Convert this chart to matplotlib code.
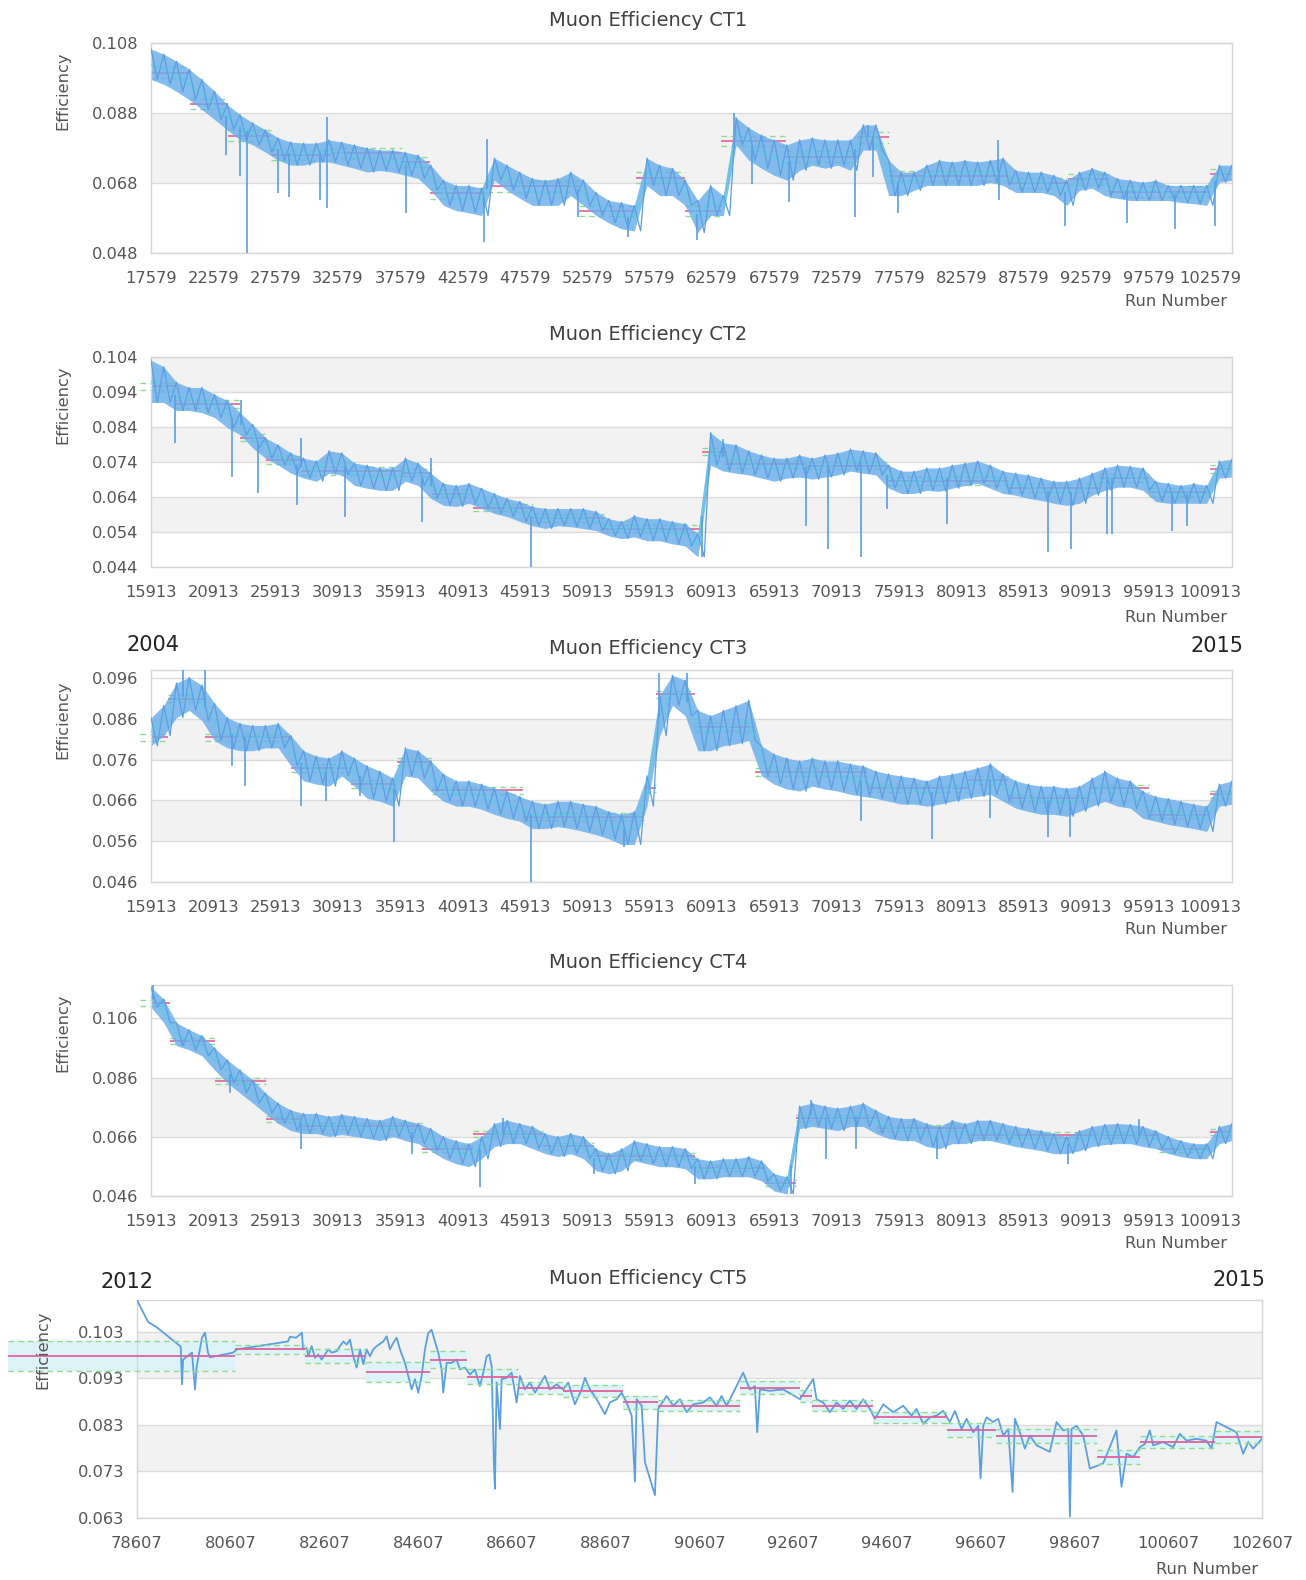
import matplotlib.pyplot as plt
import numpy as np

W, H = 1306, 1580

# ---------------- CT1 ----------------
ct1_start, ct1_end = 17579, 104286
ct1_hi = [0.1063, 0.1048, 0.1028, 0.1005, 0.0976, 0.0942, 0.0904, 0.0875, 0.0852, 0.0832,
          0.0809, 0.0797, 0.0794, 0.0794, 0.0803, 0.0797, 0.0789, 0.0780, 0.0774, 0.0774,
          0.0768, 0.0760, 0.0731, 0.0688, 0.0673, 0.0673, 0.0665, 0.0751, 0.0731, 0.0711,
          0.0693, 0.0688, 0.0693, 0.0711, 0.0688, 0.0653, 0.0630, 0.0624, 0.0616, 0.0751,
          0.0731, 0.0722, 0.0688, 0.0630, 0.0673, 0.0644, 0.0867, 0.0838, 0.0817, 0.0803,
          0.0789, 0.0803, 0.0809, 0.0803, 0.0803, 0.0803, 0.0846, 0.0846, 0.0745, 0.0711,
          0.0711, 0.0731, 0.0745, 0.0740, 0.0745, 0.0740, 0.0745, 0.0751, 0.0716, 0.0711,
          0.0711, 0.0702, 0.0688, 0.0711, 0.0722, 0.0711, 0.0693, 0.0688, 0.0682, 0.0688,
          0.0673, 0.0673, 0.0673, 0.0673, 0.0731, 0.0731]
ct1_lo = [0.0976, 0.0962, 0.0942, 0.0918, 0.0890, 0.0861, 0.0832, 0.0803, 0.0789, 0.0768,
          0.0745, 0.0731, 0.0731, 0.0740, 0.0740, 0.0731, 0.0722, 0.0711, 0.0716, 0.0711,
          0.0702, 0.0693, 0.0659, 0.0616, 0.0601, 0.0595, 0.0587, 0.0688, 0.0659, 0.0636,
          0.0616, 0.0616, 0.0616, 0.0644, 0.0616, 0.0587, 0.0566, 0.0549, 0.0543, 0.0673,
          0.0644, 0.0644, 0.0616, 0.0538, 0.0587, 0.0587, 0.0789, 0.0745, 0.0722, 0.0702,
          0.0688, 0.0716, 0.0731, 0.0722, 0.0731, 0.0716, 0.0774, 0.0774, 0.0644, 0.0644,
          0.0659, 0.0673, 0.0673, 0.0673, 0.0673, 0.0673, 0.0682, 0.0673, 0.0653, 0.0653,
          0.0653, 0.0644, 0.0616, 0.0659, 0.0665, 0.0644, 0.0636, 0.0630, 0.0630, 0.0630,
          0.0630, 0.0624, 0.0621, 0.0616, 0.0682, 0.0688]
ct1_spike_runs = [23557, 24683, 25242, 27736, 28619, 31106, 31673, 31720, 38023, 44269,
                  44512, 51801, 55868, 61335, 64308, 65758, 68730, 74036, 75081, 75478,
                  77487, 85530, 85560, 90924, 95865, 99753, 102912]
ct1_spike_vals = [0.0760, 0.0700, 0.0480, 0.0651, 0.0640, 0.0632, 0.0869, 0.0609, 0.0594, 0.0512,
                  0.0806, 0.0584, 0.0526, 0.0517, 0.0880, 0.0677, 0.0625, 0.0583, 0.0846, 0.0697,
                  0.0594, 0.0803, 0.0631, 0.0558, 0.0566, 0.0549, 0.0558]
ct1_mean_edges = [17579, 20700, 23776, 27177, 32038, 37708, 39975, 44512, 51883, 56500,
                  60388, 63304, 68488, 74316, 76746, 86304, 91164, 94404, 102504, 104286]
ct1_mean_vals = [0.0995, 0.0905, 0.0815, 0.0760, 0.0765, 0.0740, 0.0650, 0.0670, 0.0600,
                 0.0695, 0.0600, 0.0800, 0.0755, 0.0810, 0.0700, 0.0680, 0.0690, 0.0655, 0.0705]
ct1_sigma = 0.0015
ct1_xticks = list(range(17579, 102580, 5000))
ct1_yticks = [0.048, 0.068, 0.088, 0.108]

# ---------------- CT2 ----------------
ct2_start, ct2_end = 15913, 102620
ct2_hi = [0.1031, 0.1012, 0.0968, 0.0953, 0.0953, 0.0933, 0.0916, 0.0881, 0.0847, 0.0809,
          0.0789, 0.0766, 0.0751, 0.0743, 0.0772, 0.0766, 0.0737, 0.0731, 0.0723, 0.0723,
          0.0751, 0.0737, 0.0708, 0.0679, 0.0673, 0.0679, 0.0665, 0.0650, 0.0636, 0.0627,
          0.0613, 0.0607, 0.0607, 0.0607, 0.0607, 0.0599, 0.0578, 0.0570, 0.0587, 0.0578,
          0.0578, 0.0570, 0.0564, 0.0535, 0.0824, 0.0795, 0.0789, 0.0772, 0.0760, 0.0751,
          0.0751, 0.0760, 0.0751, 0.0760, 0.0766, 0.0777, 0.0772, 0.0766, 0.0731, 0.0714,
          0.0714, 0.0723, 0.0723, 0.0731, 0.0737, 0.0743, 0.0731, 0.0714, 0.0708, 0.0703,
          0.0694, 0.0685, 0.0685, 0.0694, 0.0708, 0.0723, 0.0731, 0.0728, 0.0723, 0.0685,
          0.0679, 0.0673, 0.0679, 0.0673, 0.0743, 0.0748]
ct2_lo = [0.0910, 0.0910, 0.0887, 0.0887, 0.0881, 0.0867, 0.0838, 0.0818, 0.0780, 0.0751,
          0.0731, 0.0708, 0.0694, 0.0685, 0.0708, 0.0703, 0.0673, 0.0665, 0.0659, 0.0659,
          0.0685, 0.0673, 0.0636, 0.0616, 0.0613, 0.0622, 0.0607, 0.0593, 0.0584, 0.0570,
          0.0558, 0.0550, 0.0558, 0.0555, 0.0550, 0.0544, 0.0529, 0.0521, 0.0526, 0.0515,
          0.0515, 0.0506, 0.0500, 0.0469, 0.0731, 0.0714, 0.0708, 0.0703, 0.0694, 0.0685,
          0.0694, 0.0697, 0.0691, 0.0697, 0.0703, 0.0714, 0.0708, 0.0703, 0.0665, 0.0650,
          0.0650, 0.0659, 0.0656, 0.0665, 0.0673, 0.0679, 0.0665, 0.0650, 0.0645, 0.0636,
          0.0630, 0.0622, 0.0616, 0.0622, 0.0645, 0.0659, 0.0668, 0.0668, 0.0659, 0.0627,
          0.0622, 0.0622, 0.0622, 0.0622, 0.0694, 0.0697]
ct2_spike_runs = [17865, 22450, 23171, 24459, 27593, 27917, 31457, 37645, 38366, 46400,
                  60089, 61790, 68432, 70214, 72887, 74912, 79772, 87872, 89735, 92570,
                  92975, 97835, 99050]
ct2_spike_vals = [0.0794, 0.0697, 0.0917, 0.0651, 0.0617, 0.0809, 0.0583, 0.0569, 0.0751, 0.0440,
                  0.0469, 0.0807, 0.0558, 0.0492, 0.0469, 0.0607, 0.0564, 0.0483, 0.0492, 0.0535,
                  0.0535, 0.0544, 0.0558]
ct2_mean_edges = [15050, 17816, 23082, 25107, 27942, 36042, 38472, 41712, 46572, 52242,
                  60099, 61962, 68442, 74922, 84642, 91932, 95982, 100842, 102620]
ct2_mean_vals = [0.0956, 0.0905, 0.0810, 0.0745, 0.0715, 0.0710, 0.0650, 0.0610, 0.0580,
                 0.0550, 0.0770, 0.0735, 0.0730, 0.0685, 0.0665, 0.0695, 0.0655, 0.0720]
ct2_sigma = 0.0011
ct2_xticks = list(range(15913, 100914, 5000))
ct2_yticks = [0.044, 0.054, 0.064, 0.074, 0.084, 0.094, 0.104]

# ---------------- CT3 ----------------
ct3_start, ct3_end = 15913, 102620
ct3_hi = [0.0863, 0.0893, 0.0948, 0.0962, 0.0943, 0.0898, 0.0863, 0.0849, 0.0844, 0.0844,
          0.0849, 0.0819, 0.0782, 0.0769, 0.0764, 0.0782, 0.0764, 0.0745, 0.0732, 0.0715,
          0.0789, 0.0782, 0.0757, 0.0725, 0.0708, 0.0708, 0.0700, 0.0690, 0.0683, 0.0670,
          0.0658, 0.0651, 0.0658, 0.0658, 0.0651, 0.0646, 0.0633, 0.0626, 0.0633, 0.0720,
          0.0918, 0.0967, 0.0955, 0.0881, 0.0868, 0.0881, 0.0893, 0.0906, 0.0794, 0.0774,
          0.0764, 0.0757, 0.0764, 0.0757, 0.0757, 0.0750, 0.0745, 0.0732, 0.0725, 0.0720,
          0.0715, 0.0708, 0.0720, 0.0725, 0.0732, 0.0740, 0.0750, 0.0725, 0.0708, 0.0700,
          0.0695, 0.0695, 0.0690, 0.0695, 0.0715, 0.0732, 0.0715, 0.0708, 0.0683, 0.0670,
          0.0665, 0.0658, 0.0651, 0.0646, 0.0700, 0.0708]
ct3_lo = [0.0794, 0.0819, 0.0863, 0.0881, 0.0856, 0.0807, 0.0789, 0.0782, 0.0782, 0.0789,
          0.0789, 0.0745, 0.0708, 0.0700, 0.0695, 0.0720, 0.0695, 0.0665, 0.0658, 0.0646,
          0.0720, 0.0715, 0.0683, 0.0658, 0.0646, 0.0646, 0.0638, 0.0626, 0.0616, 0.0609,
          0.0591, 0.0591, 0.0596, 0.0591, 0.0584, 0.0576, 0.0566, 0.0552, 0.0552, 0.0646,
          0.0819, 0.0893, 0.0868, 0.0782, 0.0782, 0.0794, 0.0799, 0.0807, 0.0720, 0.0700,
          0.0688, 0.0683, 0.0695, 0.0688, 0.0683, 0.0675, 0.0670, 0.0665, 0.0658, 0.0651,
          0.0651, 0.0646, 0.0651, 0.0658, 0.0665, 0.0670, 0.0675, 0.0658, 0.0641, 0.0633,
          0.0626, 0.0626, 0.0621, 0.0633, 0.0646, 0.0658, 0.0646, 0.0641, 0.0616, 0.0609,
          0.0601, 0.0596, 0.0591, 0.0584, 0.0646, 0.0651]
ct3_spike_runs = [18465, 20247, 22433, 23487, 27942, 29967, 32640, 35394, 46410, 53862,
                  56697, 58884, 72897, 78567, 83181, 87882, 89664]
ct3_spike_vals = [0.0980, 0.0980, 0.0745, 0.0695, 0.0646, 0.0658, 0.0670, 0.0559, 0.0460, 0.0547,
                  0.0972, 0.0972, 0.0609, 0.0566, 0.0616, 0.0571, 0.0571]
ct3_mean_edges = [15050, 17250, 20247, 27132, 31992, 35637, 38472, 45762, 55482, 56457,
                  59535, 64395, 73305, 81405, 84645, 91125, 95985, 100845, 102620]
ct3_mean_vals = [0.0815, 0.0910, 0.0815, 0.0740, 0.0700, 0.0755, 0.0685, 0.0620, 0.0690,
                 0.0920, 0.0840, 0.0730, 0.0690, 0.0710, 0.0665, 0.0690, 0.0625, 0.0675]
ct3_sigma = 0.0009
ct3_xticks = list(range(15913, 100914, 5000))
ct3_yticks = [0.046, 0.056, 0.066, 0.076, 0.086, 0.096]

# ---------------- CT4 ----------------
ct4_start, ct4_end = 15913, 102620
ct4_hi = [0.1166, 0.1125, 0.1046, 0.1022, 0.1002, 0.0961, 0.0920, 0.0886, 0.0852, 0.0808,
          0.0774, 0.0750, 0.0739, 0.0739, 0.0729, 0.0736, 0.0729, 0.0722, 0.0716, 0.0729,
          0.0716, 0.0705, 0.0688, 0.0661, 0.0647, 0.0637, 0.0661, 0.0705, 0.0716, 0.0705,
          0.0695, 0.0671, 0.0661, 0.0671, 0.0661, 0.0620, 0.0603, 0.0620, 0.0647, 0.0637,
          0.0627, 0.0627, 0.0620, 0.0586, 0.0579, 0.0586, 0.0586, 0.0593, 0.0579, 0.0535,
          0.0525, 0.0764, 0.0774, 0.0764, 0.0757, 0.0764, 0.0774, 0.0750, 0.0729, 0.0722,
          0.0722, 0.0705, 0.0695, 0.0716, 0.0705, 0.0716, 0.0716, 0.0705, 0.0695, 0.0688,
          0.0681, 0.0671, 0.0661, 0.0681, 0.0695, 0.0702, 0.0705, 0.0702, 0.0695, 0.0681,
          0.0661, 0.0647, 0.0637, 0.0637, 0.0695, 0.0705]
ct4_lo = [0.1098, 0.1046, 0.0968, 0.0954, 0.0934, 0.0886, 0.0842, 0.0808, 0.0774, 0.0739,
          0.0705, 0.0681, 0.0671, 0.0671, 0.0661, 0.0668, 0.0661, 0.0654, 0.0647, 0.0661,
          0.0647, 0.0637, 0.0613, 0.0586, 0.0569, 0.0559, 0.0586, 0.0627, 0.0637, 0.0637,
          0.0620, 0.0603, 0.0593, 0.0603, 0.0586, 0.0545, 0.0535, 0.0545, 0.0579, 0.0569,
          0.0559, 0.0559, 0.0552, 0.0518, 0.0518, 0.0525, 0.0525, 0.0525, 0.0511, 0.0477,
          0.0467, 0.0688, 0.0695, 0.0688, 0.0681, 0.0695, 0.0695, 0.0671, 0.0654, 0.0647,
          0.0647, 0.0627, 0.0620, 0.0637, 0.0637, 0.0647, 0.0647, 0.0637, 0.0627, 0.0620,
          0.0613, 0.0603, 0.0603, 0.0613, 0.0627, 0.0634, 0.0637, 0.0637, 0.0627, 0.0620,
          0.0603, 0.0593, 0.0586, 0.0586, 0.0637, 0.0647]
ct4_spike_runs = [16035, 22272, 27942, 36852, 42279, 44142, 51432, 59532, 67227, 68847,
                  70062, 72492, 78972, 89502, 95172]
ct4_spike_vals = [0.1173, 0.0808, 0.0620, 0.0603, 0.0491, 0.0722, 0.0535, 0.0501, 0.0467, 0.0784,
                  0.0586, 0.0620, 0.0586, 0.0569, 0.0719]
ct4_mean_edges = [15050, 17412, 21057, 25107, 27942, 37662, 41712, 47382, 51432, 59532,
                  65202, 67632, 74112, 81402, 96792, 100842, 102620]
ct4_mean_vals = [0.1111, 0.0985, 0.0850, 0.0720, 0.0695, 0.0620, 0.0670, 0.0630, 0.0595,
                 0.0555, 0.0505, 0.0725, 0.0690, 0.0665, 0.0620, 0.0675]
ct4_sigma = 0.0010
ct4_xticks = list(range(15913, 100914, 5000))
ct4_yticks = [0.046, 0.066, 0.086, 0.106]

# ---------------- CT5 ----------------
ct5_runs = [78607, 78842, 79034, 79540, 79567, 79590, 79780, 79844, 79880, 79994,
            80057, 80121, 80164, 80655, 80740, 81828, 81871, 82000, 82084, 82126,
            82148, 82227, 82261, 82333, 82404, 82475, 82546, 82617, 82688, 82760,
            82866, 82937, 83008, 83080, 83150, 83221, 83293, 83364, 83435, 83506,
            83577, 83648, 83720, 83862, 83933, 84004, 84075, 84146, 84217, 84324,
            84394, 84466, 84537, 84607, 84679, 84750, 84820, 84892, 84963, 85034,
            85106, 85140, 85213, 85319, 85426, 85497, 85603, 85710, 85816, 85923,
            85994, 86066, 86122, 86173, 86222, 86243, 86279, 86350, 86386, 86492,
            86599, 86706, 86776, 86883, 86990, 87096, 87203, 87310, 87416, 87558,
            87700, 87807, 87949, 88092, 88163, 88270, 88412, 88590, 88696, 88839,
            88946, 89052, 89159, 89230, 89266, 89373, 89443, 89656, 89727, 89905,
            90047, 90189, 90332, 90474, 90687, 90829, 90972, 91078, 91185, 91362,
            91539, 91682, 91789, 91838, 91896, 92109, 92393, 92749, 93033, 93104,
            93246, 93389, 93531, 93673, 93815, 93957, 94099, 94242, 94348, 94526,
            94739, 94952, 95131, 95238, 95380, 95522, 95665, 95806, 95948, 96055,
            96198, 96305, 96447, 96553, 96603, 96660, 96731, 96873, 96980, 97087,
            97193, 97286, 97335, 97442, 97548, 97655, 97797, 98081, 98224, 98366,
            98473, 98509, 98544, 98651, 98793, 98935, 99218, 99503, 99610, 99717,
            99859, 100001, 100108, 100214, 100284, 100498, 100711, 100854, 100996, 101209,
            101423, 101530, 101637, 101850, 102063, 102205, 102312, 102419, 102607]
ct5_eff = [0.1098, 0.1051, 0.1039, 0.0998, 0.0917, 0.0970, 0.0985, 0.0906, 0.0955, 0.1017,
           0.1028, 0.0985, 0.0975, 0.0985, 0.0992, 0.1009, 0.1019, 0.1017, 0.1024, 0.1028,
           0.0992, 0.0995, 0.0977, 0.0999, 0.0974, 0.0981, 0.0970, 0.0981, 0.0992, 0.0985,
           0.0988, 0.0999, 0.1009, 0.1002, 0.1013, 0.0977, 0.0953, 0.0992, 0.0960, 0.0992,
           0.0977, 0.0992, 0.0999, 0.1009, 0.1020, 0.0992, 0.1006, 0.1017, 0.0992, 0.0963,
           0.0935, 0.0906, 0.0928, 0.0899, 0.0935, 0.0992, 0.1027, 0.1034, 0.1009, 0.0985,
           0.0949, 0.0899, 0.0963, 0.0963, 0.0970, 0.0949, 0.0953, 0.0938, 0.0949, 0.0913,
           0.0942, 0.0977, 0.0981, 0.0956, 0.0743, 0.0693, 0.0921, 0.0821, 0.0928, 0.0931,
           0.0942, 0.0878, 0.0935, 0.0906, 0.0921, 0.0899, 0.0917, 0.0935, 0.0906, 0.0917,
           0.0906, 0.0921, 0.0874, 0.0906, 0.0931, 0.0906, 0.0885, 0.0853, 0.0878, 0.0885,
           0.0899, 0.0878, 0.0850, 0.0708, 0.0885, 0.0871, 0.0750, 0.0679, 0.0864, 0.0892,
           0.0871, 0.0885, 0.0857, 0.0874, 0.0878, 0.0889, 0.0871, 0.0892, 0.0871, 0.0906,
           0.0942, 0.0906, 0.0913, 0.0814, 0.0906, 0.0903, 0.0906, 0.0885, 0.0928, 0.0885,
           0.0878, 0.0857, 0.0878, 0.0864, 0.0882, 0.0864, 0.0885, 0.0864, 0.0843, 0.0874,
           0.0857, 0.0871, 0.0850, 0.0864, 0.0832, 0.0846, 0.0850, 0.0860, 0.0836, 0.0860,
           0.0821, 0.0843, 0.0814, 0.0828, 0.0715, 0.0828, 0.0846, 0.0836, 0.0843, 0.0807,
           0.0821, 0.0686, 0.0843, 0.0814, 0.0779, 0.0807, 0.0786, 0.0772, 0.0836, 0.0818,
           0.0821, 0.0633, 0.0821, 0.0828, 0.0807, 0.0736, 0.0747, 0.0818, 0.0697, 0.0768,
           0.0761, 0.0782, 0.0789, 0.0818, 0.0786, 0.0793, 0.0782, 0.0811, 0.0796, 0.0800,
           0.0796, 0.0779, 0.0836, 0.0825, 0.0814, 0.0768, 0.0793, 0.0779, 0.0800]
ct5_mean_edges = [75850, 80700, 82200, 83500, 84850, 85640, 86730, 87700, 88970, 89720,
                  91470, 92750, 93000, 94300, 95880, 96940, 99080, 100000, 101600, 102607]
ct5_mean_vals = [0.0977, 0.0992, 0.0977, 0.0943, 0.0970, 0.0933, 0.0909, 0.0903, 0.0878, 0.0871,
                 0.0910, 0.0892, 0.0871, 0.0846, 0.0818, 0.0807, 0.0761, 0.0793, 0.0804]
ct5_sigma = [0.0032, 0.0010, 0.0015, 0.0022, 0.0018, 0.0016, 0.0012, 0.0013, 0.0013, 0.0012,
             0.0014, 0.0012, 0.0012, 0.0012, 0.0015, 0.0015, 0.0015, 0.0012, 0.0012]
ct5_xticks = list(range(78607, 102608, 2000))
ct5_yticks = [0.063, 0.073, 0.083, 0.093, 0.103]

BLUE = '#5a9fe2'
BAND = '#68aeea'
CYANLINE = '#62cbe0'
PINK = '#e4609c'
GREEN = '#8fdc8f'
CYAN = '#dcf3f7'
TXT = '#555555'


def px_rect(l, t, r, b):
    return [l / W, 1 - b / H, (r - l) / W, (b - t) / H]


def setup_axes(rect, title, title_y, xticks, yticks, xlim, ylim, label_x, label_y, runnum):
    ax = fig.add_axes(px_rect(*rect))
    ax.set_xlim(*xlim)
    ax.set_ylim(*ylim)
    for k in range(1, len(yticks) - 1, 2):
        ax.axhspan(yticks[k], yticks[k + 1], color='#f2f2f2', zorder=0, lw=0)
    for yt in yticks:
        ax.axhline(yt, color='#dcdcdc', lw=1.0, zorder=0.5)
    ax.set_xticks(xticks)
    ax.set_xticklabels([str(t) for t in xticks])
    ax.set_yticks(yticks)
    ax.set_yticklabels(['%.3f' % t for t in yticks])
    ax.tick_params(length=0, labelsize=11.7, colors=TXT)
    ax.tick_params(axis='x', pad=13)
    ax.tick_params(axis='y', pad=9)
    for s in ax.spines.values():
        s.set_color('#d6d6d6')
        s.set_linewidth(1.0)
    fig.text(648 / W, 1 - title_y / H, title, ha='center', va='center',
             fontsize=14, color='#404040')
    fig.text(label_x / W, 1 - label_y / H, 'Efficiency', rotation=90,
             ha='center', va='center', fontsize=11.7, color=TXT)
    fig.text(runnum[0] / W, 1 - runnum[1] / H, 'Run Number', ha='right',
             va='center', fontsize=11.7, color=TXT)
    return ax


def draw_steps(ax, edges, means, sigma, z, lw_mean):
    edges = np.asarray(edges, dtype=float)
    means = np.asarray(means)
    sig = np.broadcast_to(np.asarray(sigma, dtype=float), means.shape)
    ax.hlines(means, edges[:-1], edges[1:], colors=PINK, lw=lw_mean, zorder=z)
    for sgn in (1, -1):
        ax.hlines(means + sgn * sig, edges[:-1], edges[1:], colors=GREEN, lw=1.0,
                  linestyles=(0, (4, 3)), zorder=z, clip_on=False)


def draw_band_panel(ax, start, end, hi, lo, spike_runs, spike_vals,
                    edges, means, sigma):
    hi = np.asarray(hi)
    lo = np.asarray(lo)
    runs = np.linspace(start, end, len(hi))
    half = (runs[1] - runs[0]) / 2
    draw_steps(ax, edges, means, sigma, z=1.5, lw_mean=1.2)
    ax.fill_between(runs, lo, hi, color=BAND, alpha=0.82, lw=0, zorder=2)
    mid = (hi + lo) / 2
    ax.plot(runs, mid, color=CYANLINE, lw=1.3, alpha=0.8, zorder=2.7)
    zx = np.column_stack([runs, runs + half]).ravel()[:-1]
    zy = np.column_stack([hi, lo]).ravel()[:-1]
    ax.plot(zx, zy, color=BLUE, lw=0.9, zorder=3)
    base = np.interp(spike_runs, runs, mid)
    ax.vlines(spike_runs, base, spike_vals, colors=BLUE, lw=1.2, zorder=3)


fig = plt.figure(figsize=(W / 100, H / 100), dpi=100)

ax1 = setup_axes((151, 43, 1232, 253), 'Muon Efficiency CT1', 20, ct1_xticks, ct1_yticks,
                 (ct1_start, ct1_end), (0.048, 0.108), 63, 91, (1227, 302))
draw_band_panel(ax1, ct1_start, ct1_end, ct1_hi, ct1_lo, ct1_spike_runs, ct1_spike_vals,
                ct1_mean_edges, ct1_mean_vals, ct1_sigma)

ax2 = setup_axes((151, 357, 1232, 567), 'Muon Efficiency CT2', 335, ct2_xticks, ct2_yticks,
                 (ct2_start, ct2_end), (0.044, 0.104), 63, 405, (1227, 617))
draw_band_panel(ax2, ct2_start, ct2_end, ct2_hi, ct2_lo, ct2_spike_runs, ct2_spike_vals,
                ct2_mean_edges, ct2_mean_vals, ct2_sigma)

ax3 = setup_axes((151, 670, 1232, 882), 'Muon Efficiency CT3', 649, ct3_xticks, ct3_yticks,
                 (ct3_start, ct3_end), (0.046, 0.098), 63, 720, (1227, 929))
draw_band_panel(ax3, ct3_start, ct3_end, ct3_hi, ct3_lo, ct3_spike_runs, ct3_spike_vals,
                ct3_mean_edges, ct3_mean_vals, ct3_sigma)
fig.text(126 / W, 1 - 645 / H, '2004', ha='left', va='center', fontsize=15, color='#222222')
fig.text(1243 / W, 1 - 646 / H, '2015', ha='right', va='center', fontsize=15, color='#222222')

ax4 = setup_axes((151, 985, 1232, 1196), 'Muon Efficiency CT4', 963, ct4_xticks, ct4_yticks,
                 (ct4_start, ct4_end), (0.046, 0.1173), 63, 1033, (1227, 1243))
draw_band_panel(ax4, ct4_start, ct4_end, ct4_hi, ct4_lo, ct4_spike_runs, ct4_spike_vals,
                ct4_mean_edges, ct4_mean_vals, ct4_sigma)

ax5 = setup_axes((137, 1300, 1262, 1518), 'Muon Efficiency CT5', 1278, ct5_xticks, ct5_yticks,
                 (78607, 102607), (0.063, 0.1098), 43, 1350, (1258, 1569))
e5 = np.asarray(ct5_mean_edges, dtype=float)
m5 = np.asarray(ct5_mean_vals)
s5 = np.asarray(ct5_sigma)
band5 = ax5.fill_between(e5, np.append(m5 - s5, m5[-1] - s5[-1]),
                         np.append(m5 + s5, m5[-1] + s5[-1]), step='post',
                         color=CYAN, lw=0, zorder=1)
band5.set_clip_on(False)
ax5.plot(ct5_runs, ct5_eff, color=BLUE, lw=1.3, zorder=3)
draw_steps(ax5, ct5_mean_edges, ct5_mean_vals, ct5_sigma, z=4, lw_mean=1.3)
for coll in ax5.collections:
    coll.set_clip_on(False)
fig.text(101 / W, 1 - 1282 / H, '2012', ha='left', va='center', fontsize=15, color='#222222')
fig.text(1265 / W, 1 - 1280 / H, '2015', ha='right', va='center', fontsize=15, color='#222222')

fig.savefig('out.png', dpi=100)
